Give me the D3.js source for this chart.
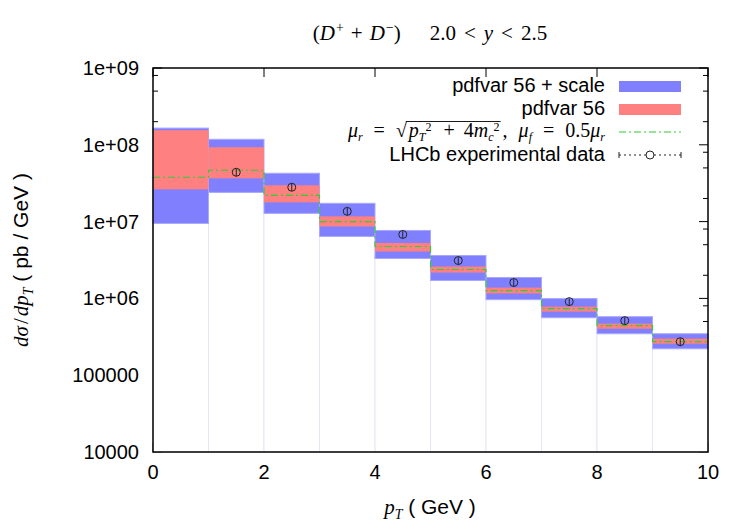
<!DOCTYPE html>
<html>
<head>
<meta charset="utf-8">
<script src="https://cdn.jsdelivr.net/npm/d3@7"></script>
<style>
  body { margin: 0; background: #fff; }
</style>
</head>
<body>
<svg id="chart" width="750" height="525"></svg>
<script>
// pT bins (GeV)
const binLo = [0, 1, 2, 3, 4, 5, 6, 7, 8, 9];
const binHi = [1, 2, 3, 4, 5, 6, 7, 8, 9, 10];
// central prediction, mu_r = sqrt(pT^2 + 4 mc^2), mu_f = 0.5 mu_r
const central = [3.78e7, 4.66e7, 2.2e7, 1.0e7, 4.74e6, 2.38e6, 1.26e6, 7.36e5, 4.42e5, 2.73e5];
// pdfvar 56 band
const pdfLow  = [2.63e7, 3.66e7, 1.78e7, 8.65e6, 4.08e6, 2.17e6, 1.16e6, 6.73e5, 4.03e5, 2.57e5];
const pdfHigh = [1.55e8, 9.3e7, 2.97e7, 1.17e7, 5.27e6, 2.6e6, 1.38e6, 7.81e5, 4.69e5, 2.99e5];
// pdfvar 56 + scale band
const totLow  = [9.47e6, 2.4e7, 1.28e7, 6.41e6, 3.31e6, 1.71e6, 9.64e5, 5.61e5, 3.47e5, 2.21e5];
const totHigh = [1.65e8, 1.18e8, 4.26e7, 1.73e7, 7.67e6, 3.62e6, 1.87e6, 9.94e5, 5.78e5, 3.47e5];
// LHCb data
const dataX   = [1.5, 2.5, 3.5, 4.5, 5.5, 6.5, 7.5, 8.5, 9.5];
const dataY   = [4.39e7, 2.8e7, 1.36e7, 6.8e6, 3.11e6, 1.61e6, 9.08e5, 5.13e5, 2.73e5];
const dataErr = [5.0e6, 3.0e6, 1.4e6, 7.0e5, 3.2e5, 1.7e5, 9.5e4, 5.5e4, 3.0e4];
// ticks
const xTicks = [0, 2, 4, 6, 8, 10];
const yTicks = [1e4, 1e5, 1e6, 1e7, 1e8, 1e9];
const yTickLabels = ['10000', '100000', '1e+06', '1e+07', '1e+08', '1e+09'];
const yMinorMult = [2, 5, 8];

(function () {
  const SANS = '"Liberation Sans", Arial, sans-serif';
  const SERIF = '"Liberation Serif", "DejaVu Serif", serif';
  const BLUE = '#8080ff', RED = '#ff8080', GREEN = '#33cc33';

  const pl = 153, pr = 708, pt = 68, pb = 452;
  const svg = d3.select('#chart');

  const x = d3.scaleLinear().domain([0, 10]).range([pl, pr]);
  const y = d3.scaleLog().domain([1e4, 1e9]).range([pb, pt]);

  // rich text helper: parts with sub/sup/italic
  function rich(sel, parts, size, subK, supK, smallK) {
    subK = subK || 0.26; supK = supK || 0.36; smallK = smallK || 0.66;
    let shift = 0;
    parts.forEach(p => {
      const target = p.sub ? size * subK : p.sup ? -size * supK : 0;
      const small = p.sub || p.sup;
      sel.append('tspan')
        .text(p.t)
        .attr('dy', target - shift)
        .attr('dx', p.dx || 0)
        .style('font-size', (small ? size * smallK : size) + 'px')
        .style('font-style', p.it ? 'italic' : 'normal')
        .style('font-family', p.sans ? SANS : SERIF);
      shift = target;
    });
    return sel;
  }

  // ticks (drawn first, the boxes cover them like gnuplot does)
  const ticks = svg.append('g').attr('stroke', '#000').attr('stroke-width', 1);
  yTicks.forEach(v => {
    ticks.append('line').attr('x1', pl).attr('x2', pl + 9).attr('y1', y(v)).attr('y2', y(v));
    ticks.append('line').attr('x1', pr).attr('x2', pr - 9).attr('y1', y(v)).attr('y2', y(v));
    if (v < 1e9) {
      yMinorMult.forEach(m => {
        const yy = y(v * m);
        ticks.append('line').attr('x1', pl).attr('x2', pl + 5).attr('y1', yy).attr('y2', yy);
        ticks.append('line').attr('x1', pr).attr('x2', pr - 5).attr('y1', yy).attr('y2', yy);
      });
    }
  });
  xTicks.forEach(v => {
    ticks.append('line').attr('x1', x(v)).attr('x2', x(v)).attr('y1', pb).attr('y2', pb - 9);
    ticks.append('line').attr('x1', x(v)).attr('x2', x(v)).attr('y1', pt).attr('y2', pt + 9);
  });

  // empty boxes down to the axis
  svg.append('g').selectAll('rect').data(binLo).join('rect')
    .attr('x', (d, i) => x(binLo[i]))
    .attr('width', (d, i) => x(binHi[i]) - x(binLo[i]))
    .attr('y', (d, i) => y(totLow[i]))
    .attr('height', (d, i) => pb - y(totLow[i]))
    .attr('fill', '#fff')
    .attr('stroke', '#e6e6f6')
    .attr('stroke-width', 1);

  // scale + pdf band
  svg.append('g').selectAll('rect').data(binLo).join('rect')
    .attr('x', (d, i) => x(binLo[i]))
    .attr('width', (d, i) => x(binHi[i]) - x(binLo[i]))
    .attr('y', (d, i) => y(totHigh[i]))
    .attr('height', (d, i) => y(totLow[i]) - y(totHigh[i]))
    .attr('fill', BLUE)
    .attr('stroke', '#a8a8ff')
    .attr('stroke-width', 1);

  // pdf band
  svg.append('g').selectAll('rect').data(binLo).join('rect')
    .attr('x', (d, i) => x(binLo[i]))
    .attr('width', (d, i) => x(binHi[i]) - x(binLo[i]))
    .attr('y', (d, i) => y(pdfHigh[i]))
    .attr('height', (d, i) => y(pdfLow[i]) - y(pdfHigh[i]))
    .attr('fill', RED);

  // central step line
  const stepPts = binLo.map((v, i) => [v, central[i]]);
  stepPts.push([binHi[binHi.length - 1], central[central.length - 1]]);
  svg.append('path')
    .datum(stepPts)
    .attr('d', d3.line().x(d => x(d[0])).y(d => y(d[1])).curve(d3.curveStepAfter))
    .attr('fill', 'none')
    .attr('stroke', GREEN)
    .attr('stroke-width', 1.2)
    .attr('stroke-dasharray', '7,3,2,3');

  // data points
  const pts = svg.append('g').attr('stroke', '#222').attr('fill', 'none').attr('stroke-width', 1);
  dataX.forEach((v, i) => {
    pts.append('line')
      .attr('x1', x(v)).attr('x2', x(v))
      .attr('y1', y(dataY[i] + dataErr[i])).attr('y2', y(dataY[i] - dataErr[i]));
    pts.append('circle').attr('cx', x(v)).attr('cy', y(dataY[i])).attr('r', 4);
  });

  // border
  svg.append('rect')
    .attr('x', pl).attr('y', pt)
    .attr('width', pr - pl).attr('height', pb - pt)
    .attr('fill', 'none').attr('stroke', '#000').attr('stroke-width', 1.5);

  // tick labels
  svg.append('g').selectAll('text').data(yTicks).join('text')
    .attr('x', pl - 14)
    .attr('y', d => y(d) + 7)
    .attr('text-anchor', 'end')
    .style('font-family', SANS).style('font-size', '20px')
    .text((d, i) => yTickLabels[i]);
  svg.append('g').selectAll('text').data(xTicks).join('text')
    .attr('x', d => x(d))
    .attr('y', pb + 27)
    .attr('text-anchor', 'middle')
    .style('font-family', SANS).style('font-size', '20px')
    .text(d => d);

  // title
  rich(svg.append('text').attr('x', 430).attr('y', 40).attr('text-anchor', 'middle'), [
    { t: '(' }, { t: 'D', it: true }, { t: '+', sup: true, dx: 1 }, { t: '+', dx: 7 },
    { t: 'D', it: true, dx: 7 }, { t: '\u2212', sup: true, dx: 1 }, { t: ')' },
    { t: '2.0', dx: 29 }, { t: '<', dx: 8 }, { t: 'y', it: true, dx: 8 },
    { t: '<', dx: 8 }, { t: '2.5', dx: 8 }
  ], 21);

  // axis labels
  rich(svg.append('text').attr('x', 430).attr('y', 514).attr('text-anchor', 'middle'), [
    { t: 'p', it: true }, { t: 'T', it: true, sub: true }, { t: ' ( GeV )', sans: true }
  ], 21);
  rich(svg.append('text').attr('text-anchor', 'middle')
    .attr('transform', 'translate(28,260) rotate(-90)'), [
    { t: 'd\u03c3', it: true }, { t: '/', dx: 2 }, { t: 'dp', it: true, dx: 2 },
    { t: 'T', it: true, sub: true }, { t: ' ( pb / GeV )', sans: true }
  ], 21);

  // legend
  const legX = 605, swX = 619, swW = 62;
  const leg = svg.append('g');
  leg.append('text').attr('x', legX).attr('y', 92).attr('text-anchor', 'end')
    .style('font-family', SANS).style('font-size', '20px').text('pdfvar 56 + scale');
  leg.append('rect').attr('x', swX).attr('y', 81).attr('width', swW).attr('height', 11).attr('fill', BLUE);
  leg.append('text').attr('x', legX).attr('y', 115).attr('text-anchor', 'end')
    .style('font-family', SANS).style('font-size', '20px').text('pdfvar 56');
  leg.append('rect').attr('x', swX).attr('y', 104).attr('width', swW).attr('height', 11).attr('fill', RED);

  const mathParts = [
    { t: '\u03bc', it: true }, { t: 'r', it: true, sub: true },
    { t: '=', dx: 11 }, { t: '\u221a', dx: 11 },
    { t: 'p', it: true, dx: 2 }, { t: 'T', it: true, sub: true }, { t: '2', sup: true },
    { t: '+', dx: 12 }, { t: '4', dx: 9 }, { t: 'm', it: true }, { t: 'c', it: true, sub: true },
    { t: '2', sup: true },
    { t: ',', dx: 3 }, { t: '\u03bc', it: true, dx: 11 }, { t: 'f', it: true, sub: true },
    { t: '=', dx: 11 }, { t: '0.5', dx: 11 }, { t: '\u03bc', it: true }, { t: 'r', it: true, sub: true }
  ];
  const mathY = 137;
  const mt = rich(leg.append('text').attr('x', legX).attr('y', mathY).attr('text-anchor', 'end'),
    mathParts, 20, 0.18, 0.32, 0.6);
  // overline of the square root
  const full = mathParts.map(p => p.t).join('');
  const rStart = full.indexOf('\u221a');
  const rEnd = full.indexOf(',') - 1;
  const node = mt.node();
  const p0 = node.getEndPositionOfChar(rStart);
  const p1 = node.getEndPositionOfChar(rEnd);
  leg.append('line')
    .attr('x1', p0.x - 1).attr('x2', p1.x + 1)
    .attr('y1', 121.5).attr('y2', 121.5)
    .attr('stroke', '#000').attr('stroke-width', 0.9);
  leg.append('line').attr('x1', swX).attr('x2', swX + swW).attr('y1', 132).attr('y2', 132)
    .attr('stroke', GREEN).attr('stroke-width', 1.2).attr('stroke-dasharray', '7,3,2,3');

  leg.append('text').attr('x', legX).attr('y', 161).attr('text-anchor', 'end')
    .style('font-family', SANS).style('font-size', '20px').text('LHCb experimental data');
  const lg = leg.append('g').attr('stroke', '#222').attr('fill', 'none').attr('stroke-width', 1);
  lg.append('line').attr('x1', swX).attr('x2', swX + swW).attr('y1', 155).attr('y2', 155)
    .attr('stroke-dasharray', '2,3');
  lg.append('line').attr('x1', swX).attr('x2', swX).attr('y1', 152).attr('y2', 158);
  lg.append('line').attr('x1', swX + swW).attr('x2', swX + swW).attr('y1', 152).attr('y2', 158);
  lg.append('circle').attr('cx', swX + swW / 2).attr('cy', 155).attr('r', 4).attr('fill', '#fff');
})();
</script>
</body>
</html>
